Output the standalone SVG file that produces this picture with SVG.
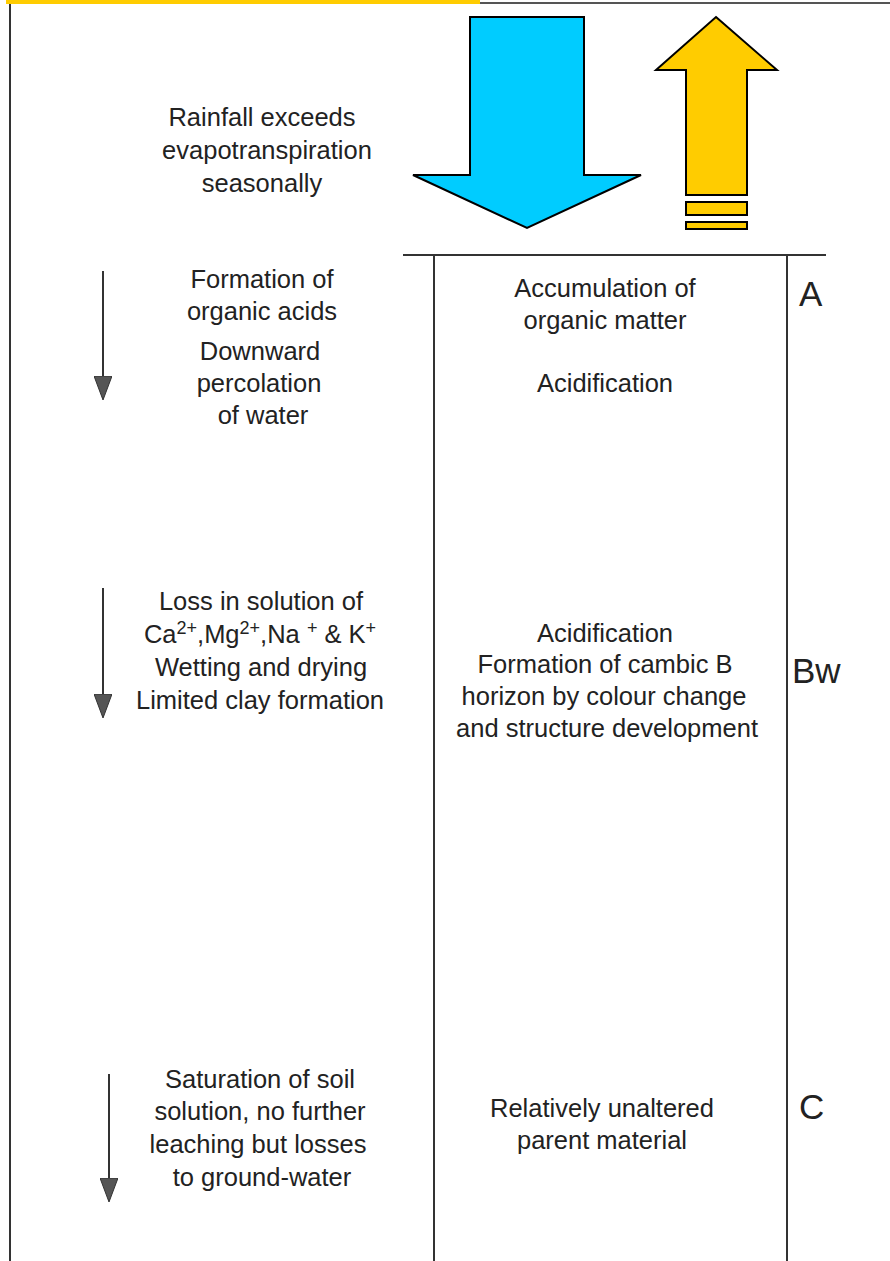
<svg xmlns="http://www.w3.org/2000/svg" width="890" height="1261" viewBox="0 0 890 1261">
<style>
text{font-family:"Liberation Sans",Arial,sans-serif;font-size:25.5px;fill:#222;text-anchor:middle}
.lbl{font-size:35px;text-anchor:start}
.frame{stroke:#333;stroke-width:2;fill:none}
.conn{stroke:#333;stroke-width:2;fill:none}
.sup{font-size:18px}
</style>
<defs>
<marker id="ah" viewBox="0 0 24 18" refX="22" refY="9" markerWidth="24" markerHeight="18" markerUnits="userSpaceOnUse" orient="auto">
<path d="M0,0 L24,9 L0,18 Z" fill="#555" stroke="#333" stroke-width="1"/>
</marker>
</defs>
<rect width="890" height="1261" fill="#fff"/>
<g id="frame">
<rect x="6" y="0" width="474" height="4" fill="#FFCC00"/>
<line x1="480" y1="3" x2="890" y2="3" stroke="#555" stroke-width="2"/>
<line x1="10" y1="4" x2="10" y2="1261" class="frame"/>
<line x1="403" y1="255" x2="826" y2="255" class="frame"/>
<line x1="434" y1="255" x2="434" y2="1261" class="frame"/>
<line x1="787" y1="255" x2="787" y2="1261" class="frame"/>
</g>
<g id="rain-arrow">
<polygon points="470,17 584,17 584,175 641,175 527,228 413,175 470,175" fill="#00CCFF" stroke="#000" stroke-width="2"/>
</g>
<g id="evap-arrow">
<polygon points="716,17 777,70 747,70 747,195 686,195 686,70 656,70" fill="#FFCC00" stroke="#000" stroke-width="2"/>
<rect x="686" y="202" width="61" height="13" fill="#FFCC00" stroke="#000" stroke-width="2"/>
<rect x="686" y="222" width="61" height="7" fill="#FFCC00" stroke="#000" stroke-width="2"/>
</g>
<g id="connectors">
<line x1="103" y1="271" x2="103" y2="398" class="conn" marker-end="url(#ah)"/>
<line x1="103" y1="588" x2="103" y2="716" class="conn" marker-end="url(#ah)"/>
<line x1="109" y1="1074" x2="109" y2="1200" class="conn" marker-end="url(#ah)"/>
</g>
<g id="climate">
<text x="262" y="126">Rainfall  exceeds</text>
<text x="267" y="159">evapotranspiration</text>
<text x="262" y="192">seasonally</text>
</g>
<g id="process-a">
<text x="262" y="288">Formation of</text>
<text x="262" y="320">organic acids</text>
<text x="260" y="360">Downward</text>
<text x="259" y="392">percolation</text>
<text x="263" y="424">of water</text>
</g>
<g id="horizon-a">
<text x="605" y="297">Accumulation of</text>
<text x="605" y="329">organic matter</text>
<text x="605" y="392">Acidification</text>
<text class="lbl" x="799" y="306">A</text>
</g>
<g id="process-bw">
<text x="261" y="610">Loss in solution of</text>
<text x="260" y="643">Ca<tspan class="sup" dy="-9">2+</tspan><tspan dy="9">,Mg</tspan><tspan class="sup" dy="-9">2+</tspan><tspan dy="9">,Na </tspan><tspan class="sup" dy="-9">+</tspan><tspan dy="9"> &amp; K</tspan><tspan class="sup" dy="-9">+</tspan></text>
<text x="261" y="676">Wetting and drying</text>
<text x="260" y="709">Limited clay formation</text>
</g>
<g id="horizon-bw">
<text x="605" y="642">Acidification</text>
<text x="605" y="673">Formation of cambic B</text>
<text x="604" y="705">horizon by colour change</text>
<text x="607" y="737">and structure development</text>
<text class="lbl" x="792" y="683">Bw</text>
</g>
<g id="process-c">
<text x="260" y="1088">Saturation of soil</text>
<text x="260" y="1120">solution, no further</text>
<text x="258" y="1153">leaching but losses</text>
<text x="262" y="1186">to ground-water</text>
</g>
<g id="horizon-c">
<text x="602" y="1117">Relatively unaltered</text>
<text x="602" y="1149">parent material</text>
<text class="lbl" x="799" y="1119">C</text>
</g>
</svg>
